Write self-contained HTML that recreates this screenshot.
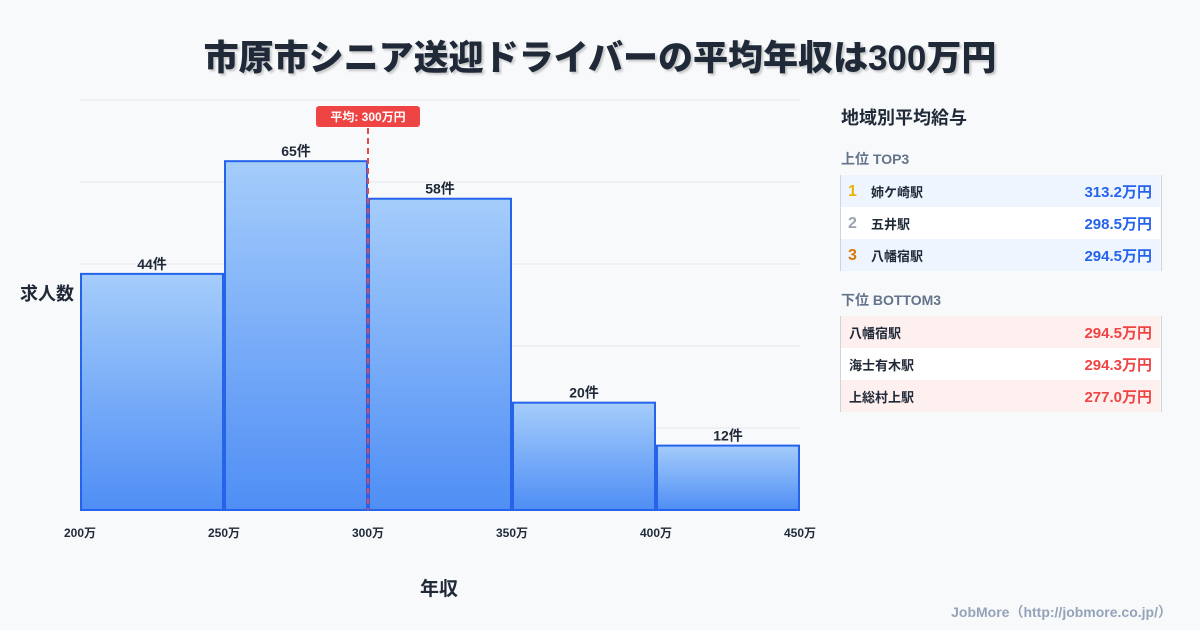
<!DOCTYPE html>
<html><head><meta charset="utf-8">
<style>
body{margin:0;width:1200px;height:630px;background:#f8f9fb;font-family:"Liberation Sans","Noto Sans CJK JP",sans-serif;overflow:hidden;position:relative;color:#1f2937}
.t{position:absolute;white-space:nowrap}
.row{position:absolute;left:841px;width:319px;height:32px;font-size:13px;font-weight:bold}
.row span{position:absolute;top:7px}
.row span.rk{font-size:16px;top:8px}
</style></head><body>
<div class="t" style="left:0;width:1200px;text-align:center;top:30px;font-size:35px;font-weight:900;color:#1f2937;text-shadow:2px 2px 2px rgba(0,0,0,0.2)">市原市シニア送迎ドライバーの平均年収は300万円</div>
<svg id="chart" width="1200" height="630" style="position:absolute;left:0;top:0">
<defs><linearGradient id="g" x1="0" y1="0" x2="0" y2="1"><stop offset="0" stop-color="#a5cdfb"/><stop offset="1" stop-color="#4f8ef5"/></linearGradient></defs>
</svg>
<div class="t" style="left:20px;top:280px;font-size:18px;font-weight:bold">求人数</div>
<div class="t" style="left:420px;top:574px;font-size:19px;font-weight:bold">年収</div>
<div class="t" style="left:841px;top:104px;font-size:18px;font-weight:bold">地域別平均給与</div>
<div class="t" style="left:841px;top:149px;font-size:14px;font-weight:bold;color:#64748b">上位 TOP3</div>
<div style="position:absolute;left:840px;top:175px;width:320px;height:96px;border-left:1px solid #cbd5e1;border-right:1px solid #cbd5e1"></div>
<div class="row" style="top:175px;background:#eef5ff"><span class="rk" style="left:7px;color:#eab308">1</span><span style="left:30px">姉ケ崎駅</span><span style="right:8px;top:6px;font-size:15px;color:#2563eb">313.2万円</span></div>
<div class="row" style="top:207px;background:#fff"><span class="rk" style="left:7px;color:#9ca3af">2</span><span style="left:30px">五井駅</span><span style="right:8px;top:6px;font-size:15px;color:#2563eb">298.5万円</span></div>
<div class="row" style="top:239px;background:#eef5ff"><span class="rk" style="left:7px;color:#d97706">3</span><span style="left:30px">八幡宿駅</span><span style="right:8px;top:6px;font-size:15px;color:#2563eb">294.5万円</span></div>
<div class="t" style="left:841px;top:290px;font-size:14px;font-weight:bold;color:#64748b">下位 BOTTOM3</div>
<div style="position:absolute;left:840px;top:316px;width:320px;height:96px;border-left:1px solid #cbd5e1;border-right:1px solid #cbd5e1"></div>
<div class="row" style="top:316px;background:#fff0f0"><span style="left:8px">八幡宿駅</span><span style="right:8px;top:6px;font-size:15px;color:#ef4444">294.5万円</span></div>
<div class="row" style="top:348px;background:#fff"><span style="left:8px">海士有木駅</span><span style="right:8px;top:6px;font-size:15px;color:#ef4444">294.3万円</span></div>
<div class="row" style="top:380px;background:#fff0f0"><span style="left:8px">上総村上駅</span><span style="right:8px;top:6px;font-size:15px;color:#ef4444">277.0万円</span></div>
<div class="t" style="right:28px;top:602px;font-size:14px;font-weight:bold;color:#94a3b8">JobMore（http://jobmore.co.jp/）</div>
<script>
const binEdges=[200,250,300,350,400,450];
const counts=[44,65,58,20,12];
const tickLabels=["200万","250万","300万","350万","400万","450万"];
const avgValue=300;
const avgLabel="平均: 300万円";
const yMax=76.4;
const NS="http://www.w3.org/2000/svg";
const svg=document.getElementById('chart');
const X0=80,X1=800,Y0=510,Y1=100;
const x=v=>X0+(v-binEdges[0])/(binEdges[binEdges.length-1]-binEdges[0])*(X1-X0);
const y=v=>Y0-v/yMax*(Y0-Y1);
function mk(t,a,txt){const e=document.createElementNS(NS,t);for(const k in a)e.setAttribute(k,a[k]);if(txt!=null)e.textContent=txt;svg.appendChild(e);return e;}
for(let i=0;i<=5;i++){const yy=Y0-i*(Y0-Y1)/5;const l=mk('line',{x1:X0,x2:X1,y1:yy,y2:yy,stroke:'#e5e7eb','stroke-width':1});

}
counts.forEach((c,i)=>{const r=mk('rect',{x:x(binEdges[i])+1,y:y(c),width:x(binEdges[i+1])-x(binEdges[i])-2,height:Y0-y(c),fill:'url(#g)',stroke:'#2563eb','stroke-width':2});


const t=mk('text',{x:(x(binEdges[i])+x(binEdges[i+1]))/2,y:y(c)-5,'text-anchor':'middle','font-size':14,'font-weight':'bold',fill:'#1f2937'},c+'件');

});
tickLabels.forEach((s,i)=>{const t=mk('text',{x:x(binEdges[i]),y:537,'text-anchor':'middle','font-size':12,'font-weight':'bold',fill:'#1f2937'},s);

});
const al=mk('line',{x1:x(avgValue),x2:x(avgValue),y1:128,y2:Y0,stroke:'#ef4444','stroke-width':2,'stroke-dasharray':'6,4'});


const ab=mk('rect',{x:x(avgValue)-52,y:106,width:104,height:21,rx:3,fill:'#ef4444'});


const at=mk('text',{x:x(avgValue),y:121,'text-anchor':'middle','font-size':12,'font-weight':'bold',fill:'#fff'},avgLabel);


</script>
</body></html>
